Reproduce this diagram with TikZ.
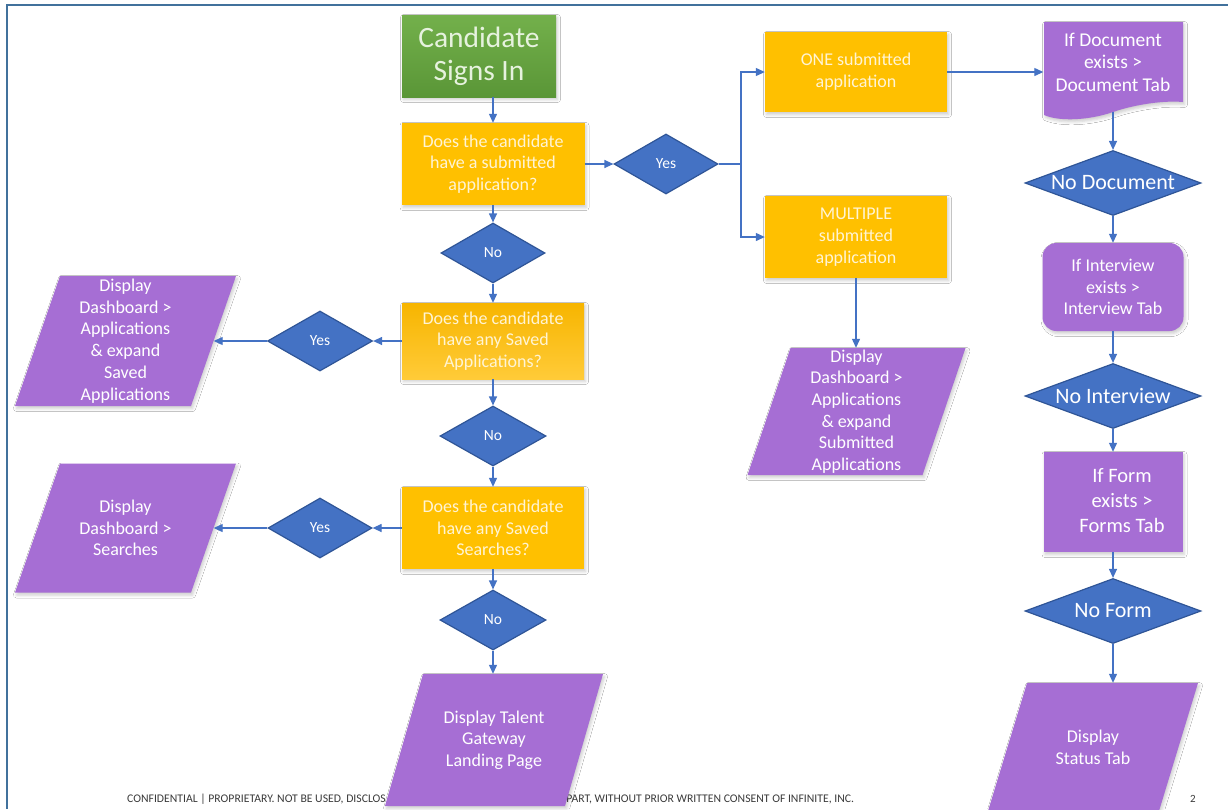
\documentclass[tikz,border=0pt]{standalone}
\usepackage{fontspec}
\setmainfont{Carlito}
\usetikzlibrary{shapes.geometric,arrows.meta,shadows.blur}
\definecolor{cyel}{HTML}{FFC000}
\definecolor{cyelT}{HTML}{F7B500}
\definecolor{cyelB}{HTML}{FFCB38}
\definecolor{cyeltxt}{HTML}{FFF4D4}
\definecolor{cblue}{HTML}{4472C4}
\definecolor{cblued}{HTML}{2F5597}
\definecolor{cpurp}{HTML}{A66ED4}
\definecolor{cgreenT}{HTML}{73B04B}
\definecolor{cgreenB}{HTML}{5A9637}
\definecolor{cgreentxt}{HTML}{E6F2DE}
\definecolor{cframe}{HTML}{41719C}
\definecolor{cfoot}{HTML}{3A3A3A}
\tikzset{
  shad/.style={blur shadow={shadow xshift=1.5pt, shadow yshift=-2.5pt, shadow blur radius=3pt, shadow opacity=20}},
  f18/.style={font=\fontsize{18}{21.7}\selectfont},
  ybox/.style={rectangle, fill=cyel, text=cyeltxt, align=center, inner sep=1pt, f18, shad},
  pbox/.style={rectangle, fill=cpurp, text=white, align=center, inner sep=1pt, f18, shad},
  ptext/.style={rectangle, text=white, align=center, inner sep=0pt, f18},
  pfill/.style={fill=cpurp, shad},
  dia/.style={diamond, aspect=1.73, fill=cblue, draw=cblued, line width=1.2pt, text=white, inner sep=0pt, font=\fontsize{15.5}{18}\selectfont},
  bigdia/.style={dia, aspect=2.7, font=\fontsize{22}{26}\selectfont},
  conn/.style={draw=cblue, line width=1.2pt},
  arr/.style={conn, -{Triangle[length=9pt,width=8pt]}},
  foot/.style={text=cfoot, font=\fontsize{11.7}{14}\selectfont, inner sep=0pt},
}
% parallelogram with a named text node on it:
% #1 name, #2 x, #3 y, #4 mid width, #5 height, #6 half slant, #7 text
\newcommand{\pgram}[7]{%
  \path[pfill] ({#2-#4/2+#6},{#3-#5/2}) -- ({#2+#4/2+#6},{#3-#5/2})
    -- ({#2+#4/2-#6},{#3+#5/2}) -- ({#2-#4/2-#6},{#3+#5/2}) -- cycle;
  \node[ptext, minimum width=#4, minimum height=#5] (#1) at (#2,#3) {#7};}
\begin{document}
\begin{tikzpicture}[x=1pt,y=-1pt]
\useasboundingbox (0,0) rectangle (1228,809);
\fill[white] (0,0) rectangle (1228,809);
\draw[cframe, line width=2pt] (1228,5) -- (7,5) -- (7,809);

% footer
\node[foot, anchor=west] (footL) at (127,799) {CONFIDENTIAL | PROPRIETARY. NOT BE USED, DISCLOS};
\node[foot, anchor=west] (footR) at (553,799) {IN PART, WITHOUT PRIOR WRITTEN CONSENT OF INFINITE, INC.};
\node[foot, font=\fontsize{11}{13}\selectfont] (pgnum) at (1193,799) {2};

% left column
\node[rectangle, minimum width=154, minimum height=82, top color=cgreenT, bottom color=cgreenB, text=cgreentxt, align=center, font=\fontsize{29.5}{33}\selectfont, shad] (start) at (479,56) {Candidate\\Signs In};
\node[ybox, minimum width=183, minimum height=82] (q1) at (493,164) {Does the candidate\\have a submitted\\application?};
\node[dia, minimum width=104, minimum height=60] (no1) at (493,253) {No};
\node[ybox, top color=cyelT, bottom color=cyelB, minimum width=182, minimum height=76] (q2) at (493,341) {Does the candidate\\have any Saved\\Applications?};
\node[dia, minimum width=105, minimum height=60] (yes2) at (320,341) {Yes};
\pgram{pa}{125.5}{341}{176}{130}{22.5}{Display\\Dashboard >\\Applications\\\& expand\\Saved\\Applications}
\node[dia, minimum width=106, minimum height=60] (no2) at (493,436) {No};
\node[ybox, minimum width=182, minimum height=82] (q3) at (493,528) {Does the candidate\\have any Saved\\Searches?};
\node[dia, minimum width=104, minimum height=60] (yes3) at (320,528) {Yes};
\pgram{ps}{125.5}{528}{176}{129}{22.5}{Display\\Dashboard >\\Searches}
\node[dia, minimum width=106, minimum height=60] (no3) at (493,620) {No};
\pgram{talent}{494}{740}{180}{132}{19}{Display Talent\\Gateway\\Landing Page}

% middle
\node[dia, minimum width=104, minimum height=60] (yes1) at (666,164) {Yes};
\coordinate (split) at (741,164);
\node[ybox, minimum width=182, minimum height=80] (one) at (856,72) {ONE submitted\\application};
\node[ybox, minimum width=182, minimum height=82] (multi) at (856,237) {MULTIPLE\\submitted\\application};
\pgram{pm}{856.5}{411.5}{175}{127}{21.5}{Display\\Dashboard >\\Applications\\\& expand\\Submitted\\Applications}

% right column
\fill[cpurp, shad] (1044,22) -- (1183,22) -- (1183,102) .. controls (1160,100) and (1130,106) .. (1113,112) .. controls (1090,120) and (1060,122) .. (1044,115) -- cycle;
\node[rectangle, minimum width=139, minimum height=80, inner sep=0pt, align=center, text=white, font=\fontsize{19.5}{22.5}\selectfont] (doc) at (1113,62) {If Document\\exists >\\Document Tab};
\node[bigdia, minimum width=176, minimum height=65] (nodoc) at (1113,183) {No Document};
\node[pbox, rounded corners=14pt, minimum width=141, minimum height=88] (intv) at (1113,287) {If Interview\\exists >\\Interview Tab};
\node[bigdia, minimum width=176, minimum height=65] (nointv) at (1113,396) {No Interview};
\node[pbox, minimum width=139, minimum height=100, font=\fontsize{20.5}{25}\selectfont] (form) at (1113,502) {\kern18pt\begin{tabular}{@{}c@{}}If Form\\exists >\\Forms Tab\end{tabular}};
\node[bigdia, minimum width=176, minimum height=65] (noform) at (1113,611) {No Form};
\pgram{status}{1093}{747}{171}{128}{19.5}{Display\\Status Tab}

% connectors
\draw[arr] (start.south -| q1.north) -- (q1.north);
\draw[arr] (q1.east) -- (yes1.west);
\draw[conn] (yes1.east) -- (split);
\draw[arr] (split) |- (one.west);
\draw[arr] (split) |- (multi.west);
\draw[arr] (one.east) -- (one.east -| doc.west);
\draw[arr] (multi.south) -- (multi.south |- pm.north);
\draw[arr] ([yshift=-10pt]doc.south) -- (nodoc.north);
\draw[arr] (nodoc.south) -- (intv.north);
\draw[arr] (intv.south) -- (nointv.north);
\draw[arr] (nointv.south) -- (form.north);
\draw[arr] (form.south) -- (noform.north);
\draw[arr] (noform.south) -- (noform.south |- status.north);
\draw[arr] (q1.south) -- (no1.north);
\draw[arr] (no1.south) -- (q2.north);
\draw[arr] (q2.south) -- (no2.north);
\draw[arr] (no2.south) -- (q3.north);
\draw[arr] (q3.south) -- (no3.north);
\draw[arr] (no3.south) -- (no3.south |- talent.north);
\draw[arr] (q2.west) -- (yes2.east);
\draw[arr] (yes2.west) -- (pa.east);
\draw[arr] (q3.west) -- (yes3.east);
\draw[arr] (yes3.west) -- (ps.east);
\end{tikzpicture}
\end{document}
